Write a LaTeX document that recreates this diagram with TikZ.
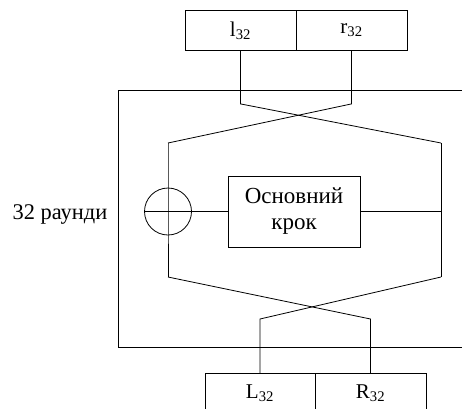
\documentclass[tikz,border=0pt]{standalone}
\usepackage{fontspec}
\setmainfont{Liberation Serif}
\begin{document}
\begin{tikzpicture}[x=1pt,y=-1pt,line width=0.8pt,
  cell/.style={draw,minimum width=111pt,minimum height=40pt,inner sep=0pt,
    font=\fontsize{21}{25}\selectfont},
  roundbox/.style={draw,minimum width=132pt,minimum height=71pt,align=center,
    font=\fontsize{23}{26}\selectfont},
  xorsym/.style={draw,circle,minimum size=47pt,inner sep=0pt}]
\useasboundingbox (0,0) rectangle (462,408);
\clip (0,0) rectangle (462,408);

% input halves
\node[cell] (lin) at (240.5,30.5) {l\textsubscript{32}};
\node[cell] (rin) at (351.5,30.5) {r\textsubscript{32}};

% output halves
\node[cell,minimum width=110pt] (Lout) at (260,393.5) {L\textsubscript{32}};
\node[cell] (Rout) at (370.5,393.5) {R\textsubscript{32}};

% round frame (open on the right)
\draw (462,90) -- (118,90) -- (118,347) -- (462,347);
\node[font=\fontsize{22.4}{25}\selectfont] (rounds) at (60,214) {32 раунди};

% round function and XOR
\node[roundbox] (stepbox) at (294,211.5) {Основний\\крок};
\node[xorsym] (xor) at (168,211.5) {};

% corner points of the wiring
\coordinate (lt) at (168,143);
\coordinate (rt) at (441,143);
\coordinate (lb) at (168,277);
\coordinate (rb) at (441,277);

% top crossing
\draw (lin.south) -- ++(0,53) -- (rt);
\draw (rin.south) -- ++(0,53) -- (lt);

% left branch through the XOR, right branch into the step
\draw (lt) -- (xor.center) -- (lb);
\draw (xor.west) -- (stepbox.west);
\draw (rt) -- (rb);
\draw (stepbox.east) -- (rt |- stepbox.east);

% bottom crossing
\draw (lb) -- (Rout.north |- 0,319) -- (Rout.north);
\draw (rb) -- (Lout.north |- 0,319) -- (Lout.north);
\end{tikzpicture}
\end{document}
